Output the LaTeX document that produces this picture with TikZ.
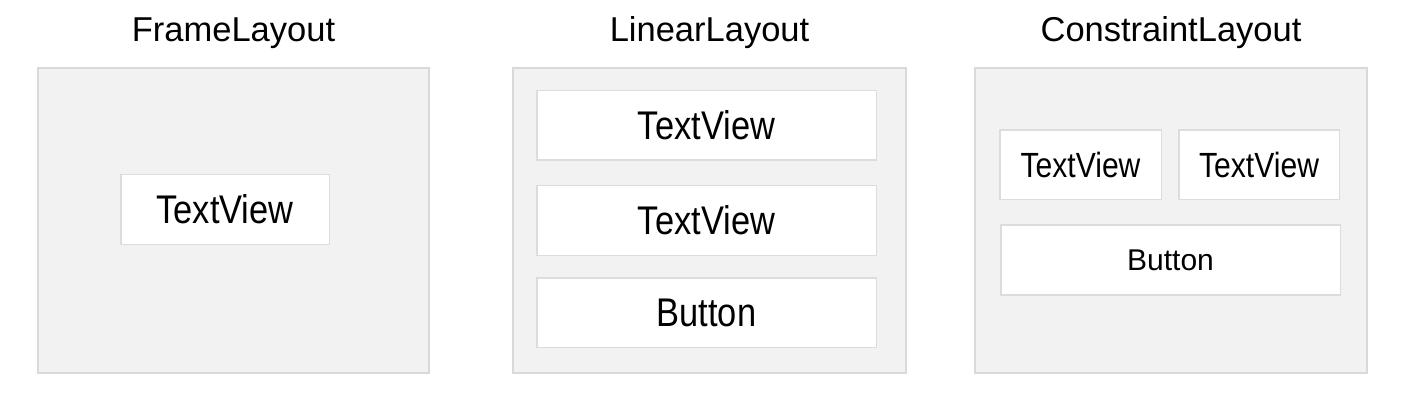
\documentclass[tikz,border=0pt]{standalone}
\usepackage{fontspec}
\setmainfont{Liberation Sans}
\newfontfamily\condfont[FakeStretch=0.86]{Liberation Sans}
\usepackage{tikz}
\usetikzlibrary{positioning}
\definecolor{PanelFill}{HTML}{F2F2F2}
\definecolor{PanelLine}{HTML}{D9D9D9}
\definecolor{ViewLine}{HTML}{DCDCDC}
\definecolor{LabelInk}{HTML}{000000}

\begin{document}
\begin{tikzpicture}[
    x=1pt, y=-1pt,
    panel/.style={
      draw=PanelLine,
      line width=2pt,
      fill=PanelFill,
      minimum width=391pt,
      minimum height=305pt,
      inner sep=0pt,
    },
    view/.style={
      draw=ViewLine,
      line width=1.5pt,
      fill=white,
      minimum height=69.5pt,
      inner sep=0pt,
      text=LabelInk,
    },
    title/.style={
      anchor=base,
      inner sep=0pt,
      font=\fontsize{34.5}{38}\selectfont,
    },
    bigtext/.style={font=\condfont\fontsize{40}{44}\selectfont},
    smalltext/.style={font=\condfont\fontsize{35}{39}\selectfont},
  ]
    \useasboundingbox (0,0) rectangle (1408,406);

    % ---- FrameLayout ----
    \node[panel] (frame) at (233.5,220.5) {};
    \node[title] (tframe) at ([yshift=25pt]frame.north) {FrameLayout};
    \node[view, bigtext, minimum width=208.5pt] (fTv) at (225,209.5) {TextView};

    % ---- LinearLayout ----
    \node[panel, minimum width=393pt] (linear) at (709.5,220.5) {};
    \node[title] (tlinear) at ([yshift=25pt]linear.north) {LinearLayout};
    \node[view, bigtext, minimum width=339.5pt] (lTvA) at (706.5,125.5) {TextView};
    \node[view, bigtext, minimum width=339.5pt,
      below=24pt of lTvA] (lTvB) {TextView};
    \node[view, bigtext, minimum width=339.5pt,
      below=21pt of lTvB] (lBtn) {Button};

    % ---- ConstraintLayout ----
    \node[panel, minimum width=392pt] (constr) at (1171,220.5) {};
    \node[title] (tconstr) at ([yshift=25pt]constr.north) {ConstraintLayout};
    \node[view, smalltext, minimum width=161.5pt] (cTvA) at (1080.5,165) {TextView};
    \node[view, smalltext, minimum width=160.5pt] (cTvB) at (1259,165) {TextView};
    \node[view, minimum width=339.5pt, font=\fontsize{30}{34}\selectfont]
      (cBtn) at (1170.5,260) {Button};
\end{tikzpicture}
\end{document}
